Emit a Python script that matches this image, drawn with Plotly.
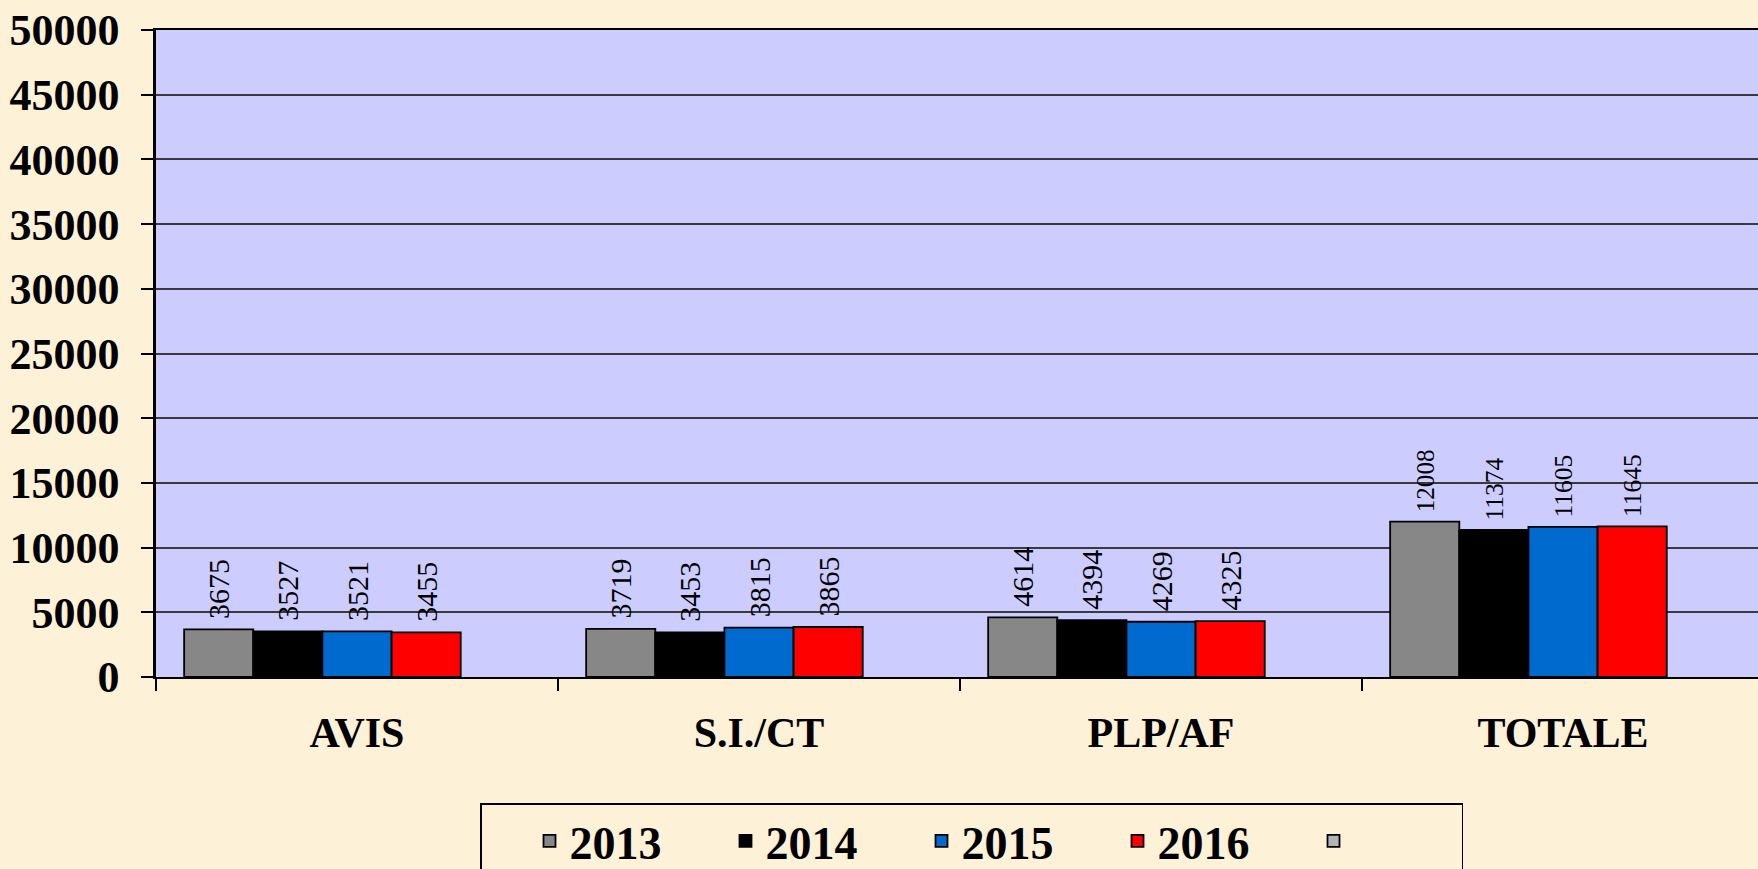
import plotly.graph_objects as go

categories = ["AVIS", "S.I./CT", "PLP/AF", "TOTALE"]
series_names = ["2013", "2014", "2015", "2016", ""]
values_2013 = [3675, 3719, 4614, 12008]
values_2014 = [3527, 3453, 4394, 11374]
values_2015 = [3521, 3815, 4269, 11605]
values_2016 = [3455, 3865, 4325, 11645]
values_empty = [None, None, None, None]
y_ticks = [0, 5000, 10000, 15000, 20000, 25000, 30000, 35000, 40000, 45000, 50000]

colors = ["#878787", "#000000", "#006ACE", "#FF0000", "#B3B3B3"]
all_values = [values_2013, values_2014, values_2015, values_2016, values_empty]

SERIF = "Times New Roman"

fig = go.Figure()
for name, vals, col in zip(series_names, all_values, colors):
    fig.add_trace(go.Bar(
        x=categories, y=vals, name=name,
        marker=dict(color=col, line=dict(color="#000000", width=1.8)),
        text=[None if v is None else str(v) for v in vals],
        texttemplate="\u00a0%{text}",
        textposition="outside", textangle=-90,
        textfont=dict(family=SERIF, size=30, color="#000000"),
        cliponaxis=False,
    ))

fig.update_layout(
    width=1758, height=869,
    margin=dict(l=156, r=0, t=30, b=192, autoexpand=False),
    paper_bgcolor="#FDF1D8",
    plot_bgcolor="#CCCCFF",
    barmode="group", bargap=0.14, bargroupgap=0,
    font=dict(family=SERIF, color="#000000"),
    showlegend=True,
    legend=dict(
        orientation="h", x=(480 - 156) / 1602, xanchor="left",
        y=-126 / 647, yanchor="top",
        bgcolor="rgba(0,0,0,0)", bordercolor="#000000", borderwidth=1.5,
        font=dict(family=SERIF, size=46, color="#000000", weight="bold"),
        entrywidth=103, entrywidthmode="pixels",
        indentation=48,
        traceorder="normal",
    ),
)
fig.update_xaxes(
    range=[-0.5, 3.485], type="category",
    tickson="boundaries", ticks="outside", ticklen=12, tickwidth=1.5, tickcolor="#000000",
    showline=True, linecolor="#000000", linewidth=2, mirror=True,
    tickfont=dict(family=SERIF, size=42, color="#000000", weight="bold"),
    ticklabelstandoff=18,
    showgrid=False,
)
fig.update_yaxes(
    range=[0, 50000], tickvals=y_ticks, ticktext=[str(t) for t in y_ticks],
    ticks="outside", ticklen=12, tickwidth=1.5, tickcolor="#000000",
    showline=True, linecolor="#000000", linewidth=2.5,
    showgrid=True, gridcolor="#3A3A3A", gridwidth=1.5,
    tickfont=dict(family=SERIF, size=44, color="#000000", weight="bold"),
    ticklabelstandoff=13, ticklabeloverflow="allow",
    zeroline=False,
)

fig.write_html(
    "out.html",
    config={"displayModeBar": False},
    post_script="document.body.style.margin='0';document.body.style.overflow='hidden';",
)
